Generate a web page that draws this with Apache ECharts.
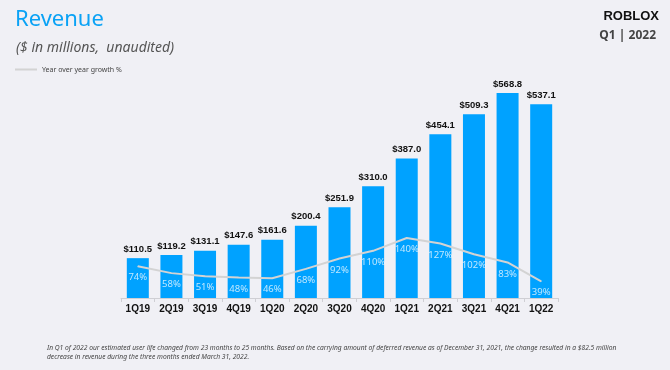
<!DOCTYPE html>
<html><head><meta charset="utf-8">
<script src="https://cdn.jsdelivr.net/npm/echarts@6/dist/echarts.min.js"></script>
<style>html,body{margin:0;padding:0;background:#f0f0f5;}#c{width:670px;height:370px;}</style>
</head><body><div id="c"></div>
<script>
var categories = ['1Q19','2Q19','3Q19','4Q19','1Q20','2Q20','3Q20','4Q20','1Q21','2Q21','3Q21','4Q21','1Q22'];
var revenue = [110.5,119.2,131.1,147.6,161.6,200.4,251.9,310.0,387.0,454.1,509.3,568.8,537.1];
var growth = [74,58,51,48,46,68,92,110,140,127,102,83,39];

var chart = echarts.init(document.getElementById('c'));
var font = '"Noto Sans", "Open Sans", sans-serif';
var boldFont = '"Liberation Sans", Arial, sans-serif';
chart.setOption({
  backgroundColor: '#f0f0f5',
  animation: false,
  title: [
    {text: 'Revenue', left: 10, top: 4, textStyle: {fontFamily: font, fontSize: 22, fontWeight: 'normal', color: '#0aa2f5'}},
    {text: '($ in millions,  unaudited)', left: 11, top: 36, textStyle: {fontFamily: font, fontSize: 14, fontStyle: 'italic', fontWeight: 'normal', color: '#555'}},
    {text: 'ROBLOX', right: 6, top: 5, textStyle: {fontFamily: boldFont, fontSize: 13, fontWeight: 900, color: '#111', letterSpacing: 1.5}},
    {text: 'Q1 | 2022', right: 9, top: 25, textStyle: {fontFamily: font, fontSize: 12, fontWeight: 'bold', color: '#444'}},
    {text: 'In Q1 of 2022 our estimated user life changed from 23 months to 25 months. Based on the carrying amount of deferred revenue as of December 31, 2021, the change resulted in a $82.5 million\ndecrease in revenue during the three months ended March 31, 2022.',
     left: 42, top: 339, textStyle: {fontFamily: font, fontSize: 6.7, fontStyle: 'italic', fontWeight: 'normal', color: '#444', lineHeight: 8.5}}
  ],
  legend: {
    left: 10, top: 61, itemWidth: 22, itemHeight: 8, icon: 'path://M0,0 L22,0 L22,2 L0,2 Z',
    data: [{name: 'Year over year growth %', itemStyle: {color: '#d3d3d3', opacity: 1}}],
    textStyle: {fontFamily: font, fontSize: 7, color: '#444'}
  },
  grid: {left: 121, right: 112, top: 60, bottom: 72},
  xAxis: {
    type: 'category', data: categories,
    axisLine: {lineStyle: {color: '#cfcfd4'}},
    axisTick: {show: true, lineStyle: {color: '#cfcfd4'}, length: 4},
    axisLabel: {fontFamily: boldFont, fontSize: 10, fontWeight: 'bold', color: '#111', margin: 6}
  },
  yAxis: [
    {type: 'value', min: 0, max: 660, show: false, splitLine: {show: false}},
    {type: 'value', min: 0, max: 555, show: false, splitLine: {show: false}}
  ],
  series: [
    {
      type: 'bar', name: 'Revenue', data: revenue, barWidth: 22,
      itemStyle: {color: '#00a2ff'},
      label: {show: true, position: 'top', distance: 4, fontFamily: boldFont, fontSize: 9.5, fontWeight: 'bold', color: '#111',
        formatter: function(p){ return '$' + p.value.toFixed(1); }}
    },
    {
      type: 'line', name: 'Year over year growth %', data: growth, yAxisIndex: 1,
      symbol: 'circle', symbolSize: 1, showSymbol: true,
      lineStyle: {color: '#d3d3d3', width: 2},
      itemStyle: {color: '#d3d3d3'},
      label: {show: true, position: 'bottom', distance: 6, fontFamily: font, fontSize: 9.5, color: 'rgba(255,255,255,0.75)',
        textBorderWidth: 0, textBorderColor: 'transparent',
        formatter: function(p){ return p.value + '%'; }},
      labelLayout: {hideOverlap: false},
      z: 3
    }
  ]
});
</script></body></html>
